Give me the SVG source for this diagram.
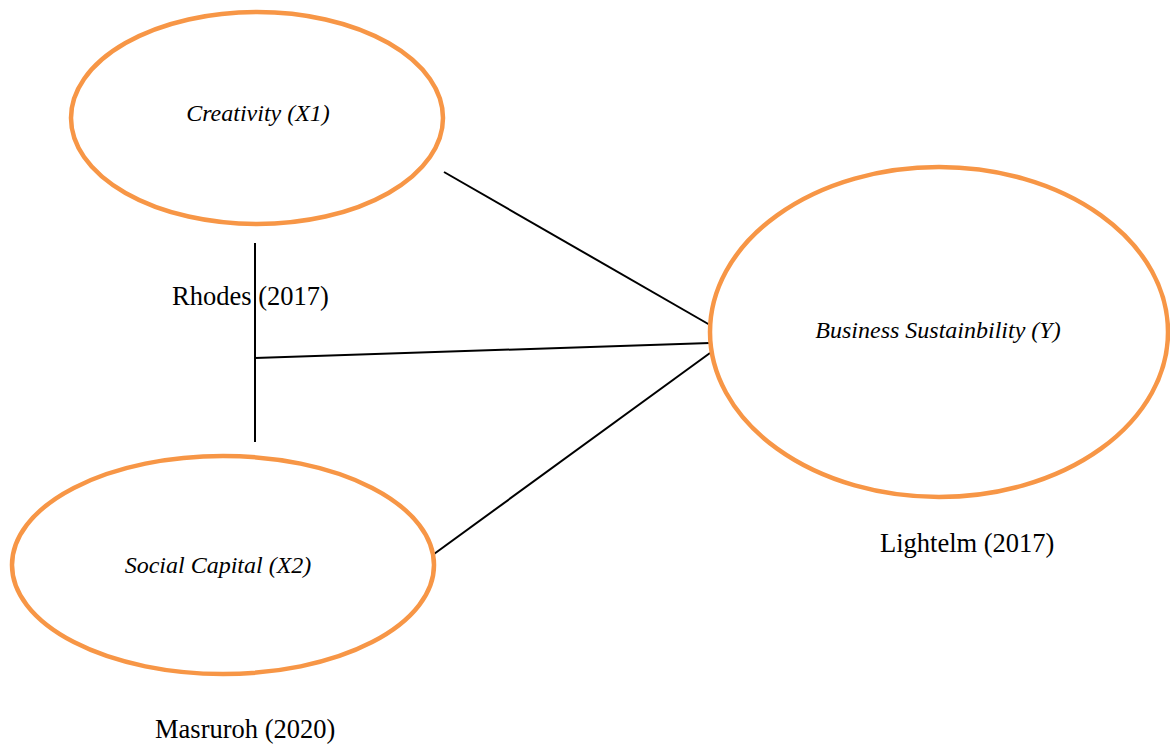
<svg xmlns="http://www.w3.org/2000/svg" width="1170" height="744" viewBox="0 0 1170 744">
<style>
.node ellipse{fill:#fff;stroke:#F79646;stroke-width:4.5}
.lbl{font-family:"Liberation Serif",serif;font-style:italic;font-size:24px;fill:#000;text-anchor:middle}
.ref{font-family:"Liberation Serif",serif;font-size:26.5px;fill:#000}
.conn line{stroke:#000;stroke-width:2}
</style>
<rect width="1170" height="744" fill="#fff"/>
<g id="connectors" class="conn">
<line x1="444" y1="172" x2="710" y2="325"/>
<line x1="255" y1="358" x2="710" y2="343"/>
<line x1="434" y1="554" x2="710" y2="353"/>
<line x1="255" y1="243" x2="255" y2="442"/>
</g>
<g id="creativity" class="node">
<ellipse cx="257" cy="118" rx="186" ry="106"/>
<text class="lbl" x="258" y="121">Creativity (X1)</text>
</g>
<g id="business" class="node">
<ellipse cx="939" cy="332" rx="229" ry="165"/>
<text class="lbl" x="938" y="338">Business Sustainbility (Y)</text>
</g>
<g id="social" class="node">
<ellipse cx="223" cy="565" rx="211" ry="109"/>
<text class="lbl" x="218" y="573">Social Capital (X2)</text>
</g>
<text class="ref" x="172" y="305">Rhodes (2017)</text>
<text class="ref" x="880" y="552">Lightelm (2017)</text>
<text class="ref" x="155" y="738">Masruroh (2020)</text>
</svg>
